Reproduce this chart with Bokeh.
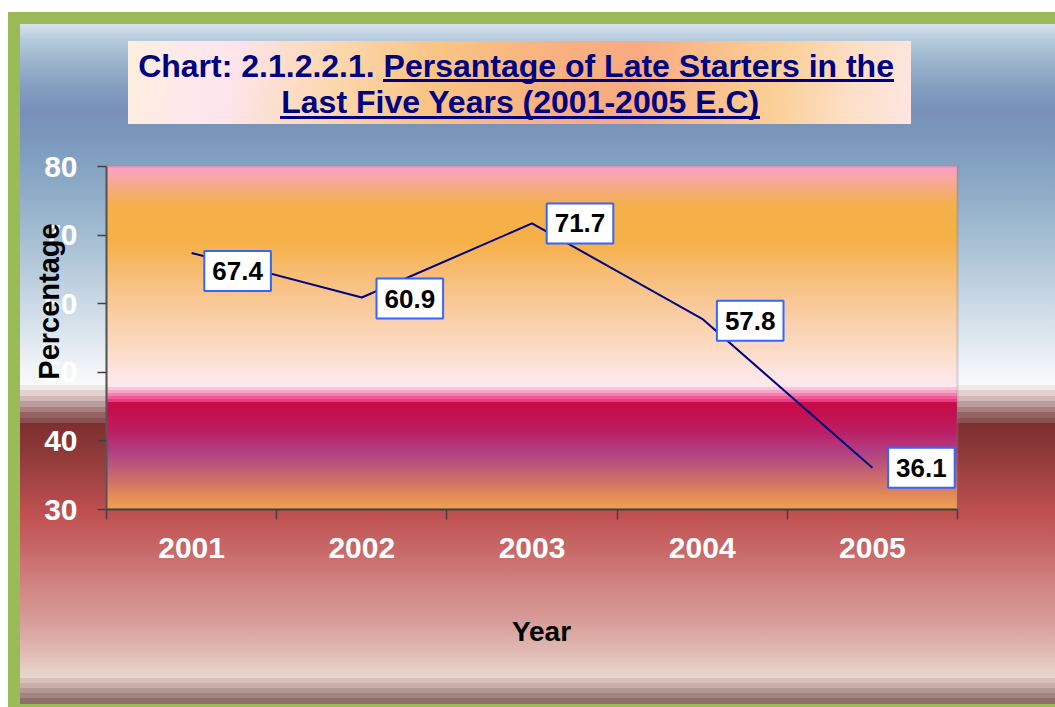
import math
from bokeh.plotting import figure
from bokeh.models import Range1d, FixedTicker, Label, ColumnDataSource, BoxAnnotation
from bokeh.embed import file_html
from bokeh.resources import INLINE

# ---------------- data ----------------
years = [2001, 2002, 2003, 2004, 2005]
values = [67.4, 60.9, 71.7, 57.8, 36.1]
value_labels = ["67.4", "60.9", "71.7", "57.8", "36.1"]
y_ticks = [30, 40, 50, 60, 70, 80]
title_line1 = "Chart: 2.1.2.2.1. Persantage of Late Starters in  the"
title_line2 = "Last Five Years (2001-2005 E.C)"
x_title = "Year"
y_title = "Percentage"

# ---------------- layout / style ----------------
W, H = 1055, 707
PL, PR, PT, PB = 106, 957, 166, 509      # plot-area edges in page pixels
FONT = "Liberation Sans"
label_dx = [46, 48, 48, 48, 49]
label_dy = [-18, -1, 0, -2, 0]

x0, x1 = years[0] - 0.5, years[-1] + 0.5
y0, y1 = y_ticks[0], y_ticks[-1]
xs = (PR - PL) / (x1 - x0)
ys = (PB - PT) / (y1 - y0)

p = figure(width=W, height=H, output_backend="svg", toolbar_location=None,
           x_range=Range1d(x0 - PL / xs, x1 + (W - PR) / xs),
           y_range=Range1d(y0 - (H - PB) / ys, y1 + PT / ys),
           min_border=0)
p.title.visible = False
p.background_fill_color = None
p.border_fill_color = None
p.outline_line_color = None
p.grid.visible = False

# plot-area border
p.add_layout(BoxAnnotation(left=x0, right=x1, bottom=y0, top=y1, fill_color=None,
                           line_color="#808080", line_width=2, level="underlay"))

bounds = [y - 0.5 for y in years] + [years[-1] + 0.5]
xa = p.xaxis[0]
xa.fixed_location = y0
xa.bounds = (x0, x1)
xa.ticker = FixedTicker(ticks=years, minor_ticks=bounds)
xa.major_tick_line_color = None
xa.major_tick_out = 10
xa.major_tick_in = 0
xa.minor_tick_line_color = "#404040"
xa.minor_tick_line_width = 1.5
xa.minor_tick_in = 0
xa.minor_tick_out = 10
xa.axis_line_color = "#404040"
xa.axis_line_width = 2
xa.major_label_text_font = FONT
xa.major_label_text_font_style = "bold"
xa.major_label_text_font_size = "30px"
xa.major_label_text_color = "white"
xa.major_label_standoff = 18

ya = p.yaxis[0]
ya.fixed_location = x0
ya.bounds = (y0, y1)
ya.ticker = FixedTicker(ticks=y_ticks, minor_ticks=[])
ya.major_tick_out = 9
ya.major_tick_in = 0
ya.major_tick_line_color = "#404040"
ya.major_tick_line_width = 1.5
ya.minor_tick_line_color = None
ya.axis_line_color = "#555555"
ya.axis_line_width = 2
ya.major_label_text_font = FONT
ya.major_label_text_font_style = "bold"
ya.major_label_text_font_size = "30px"
ya.major_label_text_color = "white"
ya.major_label_standoff = 20

src = ColumnDataSource(dict(year=years, value=values))
p.line(x="year", y="value", source=src, line_color="#000080", line_width=2)

for yr, v, t, dx, dy in zip(years, values, value_labels, label_dx, label_dy):
    p.add_layout(Label(x=yr, y=v, text=t, x_offset=dx, y_offset=dy,
                       text_align="center", text_baseline="middle",
                       text_font=FONT, text_font_style="bold", text_font_size="26px",
                       text_color="black", background_fill_color="white",
                       border_line_color="#3366ff", border_line_width=2,
                       padding=dict(left=8, right=8, top=11, bottom=11)))

def tlabel(px, py, text, size, color, angle=0.0):
    # page pixel baseline position -> frame screen units (frame fills the canvas);
    # Bokeh draws "alphabetic" text ~0.34em below the anchor, so compensate.
    shift = 0.34 * size
    if angle:
        px -= shift
    else:
        py -= shift
    p.add_layout(Label(x=px, y=H - py, x_units="screen", y_units="screen", text=text,
                       angle=angle, text_align="center", text_baseline="alphabetic",
                       text_font=FONT, text_font_style="bold",
                       text_font_size=f"{size}px", text_color=color))

tlabel(520, 76, title_line1, 32, "#000080")
tlabel(520, 112, title_line2, 32, "#000080")
tlabel(541, 641, x_title, 28, "black")
tlabel(58, 301, y_title, 29, "black", angle=math.pi / 2)

# ---------------- CSS backgrounds (gradients) ----------------
def grad(stops):
    return ", ".join(f"{c} {y}px" for y, c in stops)

bg_stops = [
    (24, "#d6e3ee"), (40, "#b6cbde"), (60, "#9cb6ce"), (85, "#86a0c2"), (110, "#7890b8"),
    (135, "#7a97bb"), (165, "#84a3c3"), (200, "#92afc9"), (240, "#a6bfd3"), (280, "#bdcfdf"),
    (320, "#d4e0ea"), (350, "#e6ecf2"), (370, "#f3f5f8"), (385, "#f8f9fb"),
    (385, "#f0eaea"), (390, "#f0eaea"), (390, "#e2d2d2"), (396, "#e2d2d2"), (396, "#d0b8b8"),
    (401, "#d0b8b8"), (401, "#bc9c9c"), (407, "#bc9c9c"), (407, "#a88080"), (412, "#a88080"),
    (412, "#946262"), (418, "#946262"), (418, "#8a5050"), (423, "#8a5050"),
    (423, "#7e2e2e"), (450, "#8c3838"), (480, "#a44444"), (513, "#c05050"), (550, "#c86868"),
    (580, "#d08080"), (620, "#d89c98"), (650, "#e0b8b2"), (672, "#e6d2ca"), (678, "#e8d6ce"),
    (678, "#d6c2ba"), (683, "#d6c2ba"), (683, "#c8b0a8"), (688, "#c8b0a8"), (688, "#b49894"),
    (693, "#b49894"), (693, "#a08480"), (698, "#a08480"), (698, "#906c6c"), (707, "#906c6c"),
]
fr_stops = [
    (0, "#f9a0c8"), (12, "#f8a8a4"), (24, "#f5aa7c"), (40, "#f5b04a"), (75, "#f6b048"),
    (90, "#f6b65c"), (105, "#f7bc70"), (125, "#f8c48a"), (145, "#f9cca0"), (165, "#fad4b4"),
    (180, "#fbdac2"), (195, "#fce0d2"), (210, "#fde6e6"), (221, "#fde8f0"),
    (221, "#fcc4da"), (224, "#fcc4da"), (224, "#f9a6c6"), (227, "#f9a6c6"), (227, "#f580b0"),
    (230, "#f580b0"), (230, "#f05a98"), (233, "#f05a98"), (233, "#e83c80"), (236, "#e83c80"),
    (236, "#c80c48"), (245, "#c40e4c"), (265, "#bc1e62"), (285, "#b03e84"), (300, "#bc5878"),
    (315, "#d07068"), (330, "#e48c58"), (343, "#f0a050"),
]
title_grad = ("linear-gradient(100deg, #fdeedd 0%, #fde8ee 10%, #fde4ea 14%, #fcd8b0 26%, "
              "#f9c484 39%, #f8b080 55%, #f8aa82 64%, #fbc890 78%, #fbd09a 83%, "
              "#fde0c8 92%, #fde6e2 100%)")
navy = "linear-gradient(#000080, #000080)"
layers = [
    f"{navy} 383px 79px / 511px 3px no-repeat",
    f"{navy} 280px 116px / 480px 3px no-repeat",
    f"{title_grad} 128px 41px / 783px 83px no-repeat",
    f"linear-gradient(to bottom, {grad(fr_stops)}) {PL}px {PT}px / {PR - PL}px {PB - PT}px no-repeat",
    f"linear-gradient(to bottom, {grad(bg_stops)}) 0px 0px / 100% 100% no-repeat #d6e3ee",
]
p.styles = {
    "background": ", ".join(layers),
    "box-shadow": ("inset 0 12px 0 0 #ffffff, inset 8px 0 0 0 #ffffff, "
                   "inset 0 24px 0 0 #9bbb59, inset 20px 0 0 0 #9bbb59, "
                   "inset 0 -3px 0 0 #9bbb59"),
}

open("out.html", "w").write(file_html(p, INLINE))
